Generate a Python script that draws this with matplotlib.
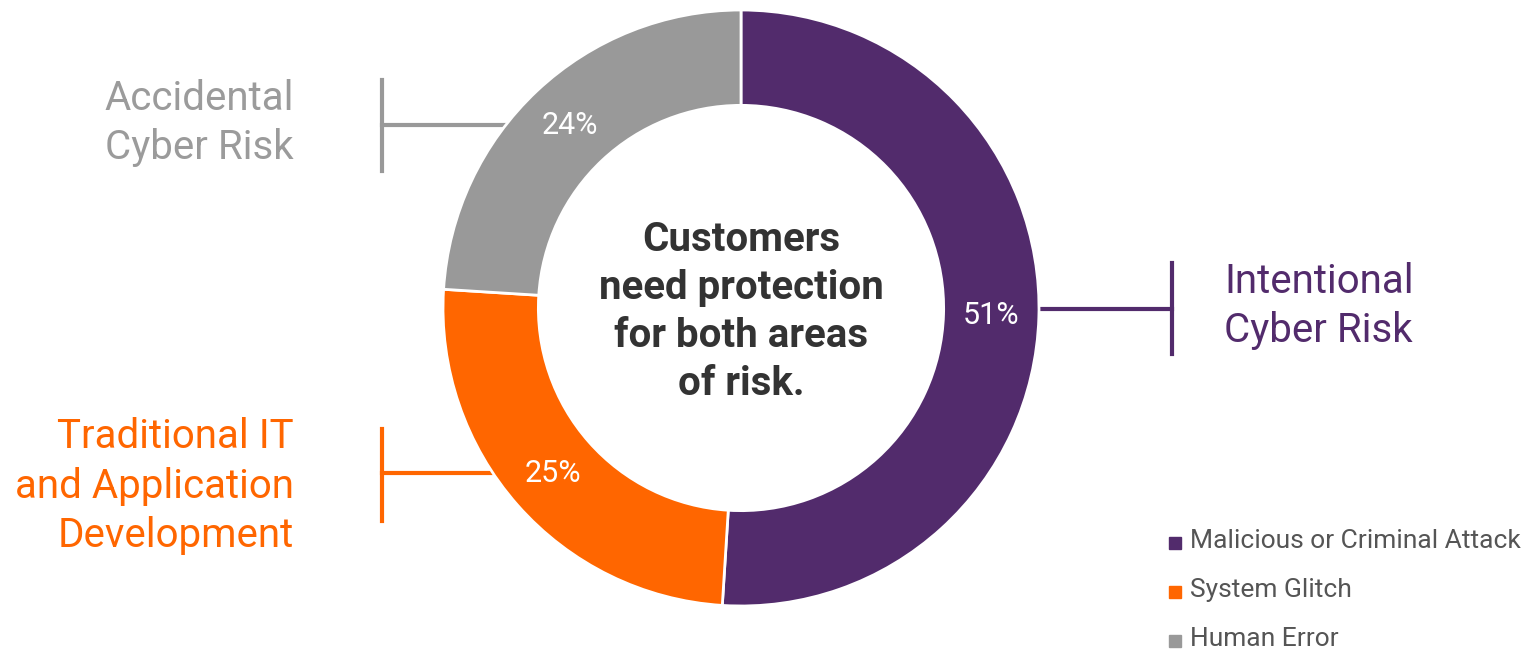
import numpy as np
import matplotlib
matplotlib.use("Agg")
import matplotlib.pyplot as plt

plt.rcParams['font.family'] = ['Roboto', 'DejaVu Sans']

# risk share by cause
causes = ['Malicious or Criminal Attack', 'System Glitch', 'Human Error']
shares = [51, 25, 24]
colors = ['#522B6C', '#FF6600', '#999999']

# risk groups shown beside the ring
groups = ['Intentional\nCyber Risk', 'Traditional IT\nand Application\nDevelopment', 'Accidental\nCyber Risk']
center_note = 'Customers\nneed protection\nfor both areas\nof risk.'

W, H = 1527, 649
fig = plt.figure(figsize=(W / 100, H / 100), dpi=100)
ax = fig.add_axes([0, 0, 1, 1])

cx, cy = 741, H - 308
R = 298
ring = 0.32

wedges, texts, autotexts = ax.pie(
    shares, colors=colors, center=(cx, cy), radius=R,
    startangle=90, counterclock=False,
    autopct='%d%%', pctdistance=0.84,
    wedgeprops=dict(width=R * ring, edgecolor='white', linewidth=2),
    textprops=dict(color='white', fontsize=22))

# pie() resets the limits, so set them afterwards
ax.set_xlim(0, W)
ax.set_ylim(0, H)
ax.set_aspect('equal')
ax.axis('off')

ax.text(cx, cy - 4, center_note, ha='center', va='center', fontsize=29,
        fontweight='bold', color='#333333', linespacing=1.34)

# brackets joining each group label to the ring
def bracket(y_px, y0_px, y1_px, side, color):
    y = H - y_px
    dx = np.sqrt(R ** 2 - (y - cy) ** 2)
    if side == 'right':
        xb = 1172
        ax.plot([cx + dx, xb], [y, y], color=color, lw=3, zorder=0)
    else:
        xb = 382
        ax.plot([xb, cx - dx], [y, y], color=color, lw=3, zorder=0)
    ax.plot([xb, xb], [H - y0_px, H - y1_px], color=color, lw=3)

bracket(309, 263, 354, 'right', colors[0])
bracket(473, 429, 521, 'left', colors[1])
bracket(125, 80, 171, 'left', colors[2])

ax.text(1224, H - 306, groups[0], ha='left', va='center', fontsize=29,
        color=colors[0], linespacing=1.34)
ax.text(294, H - 486, groups[1], ha='right', va='center', fontsize=29,
        color=colors[1], linespacing=1.34)
ax.text(294, H - 123, groups[2], ha='right', va='center', fontsize=29,
        color='#9B9B9B', linespacing=1.34)

# legend
for i, (name, c) in enumerate(zip(causes, colors)):
    y = H - (541 + i * 49)
    ax.plot(1175, y - 2, marker='s', markersize=8, color=c, linestyle='none')
    ax.text(1190, y, name, ha='left', va='center', fontsize=19, color='#555555')

fig.savefig('out.png', dpi=100)
